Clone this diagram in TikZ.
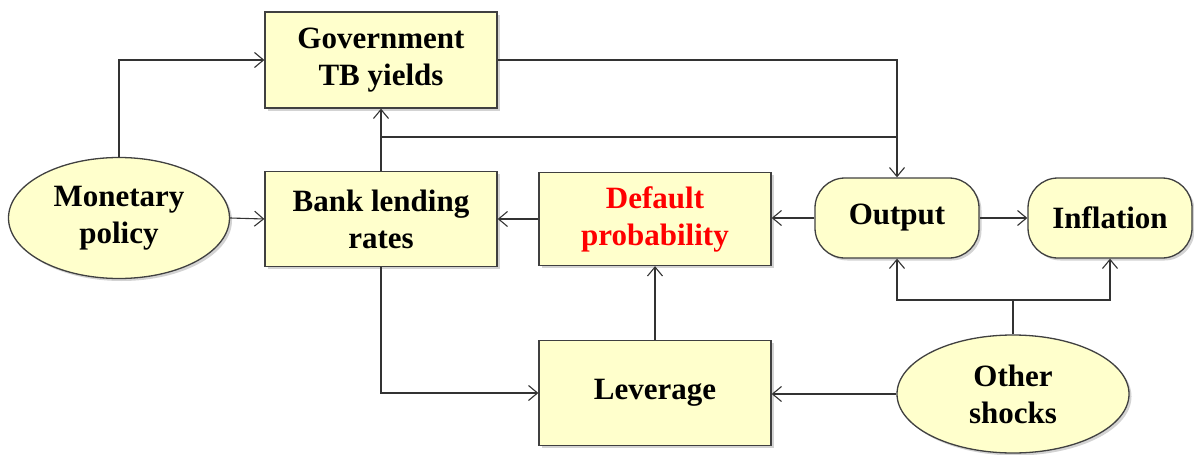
\documentclass[tikz,border=0pt]{standalone}
\usepackage{fontspec}
\setmainfont{Liberation Serif}
\usetikzlibrary{arrows.meta, shapes.geometric, shadows}

\definecolor{boxfill}{HTML}{FFFFCC}
\definecolor{boxline}{HTML}{404040}

\begin{document}
\begin{tikzpicture}[x=1pt, y=-1pt,
    base/.style={draw=boxline, line width=1.3pt, fill=boxfill, align=center,
      inner sep=0pt, font=\bfseries\fontsize{31}{37}\selectfont,
      drop shadow={shadow xshift=2.5pt, shadow yshift=-2.5pt, opacity=0.35}},
    block/.style={base, rectangle, minimum width=232pt},
    pill/.style={base, rectangle, rounded corners=30pt, minimum width=164pt, minimum height=80pt},
    oval/.style={base, ellipse},
    link/.style={draw=black!80, line width=1.1pt, -{Straight Barb[length=9pt, width=15pt]}}]

  \useasboundingbox (0,0) rectangle (1194,455);

  % Boxes
  \node[block, minimum height=96pt] (gov) at (381,60) {Government\\TB yields};
  \node[block, minimum height=95pt] (bank) at (381,219) {Bank lending\\rates};
  \node[block, minimum height=93pt, text=red] (dflt) at (655,219) {Default\\probability};
  \node[block, minimum height=105pt] (lev) at (655,393) {Leverage};
  \node[pill] (out) at (897,218) {Output};
  \node[pill] (infl) at (1110,218) {Inflation};

  % Ellipses
  \node[oval, minimum width=221pt, minimum height=121pt] (mon) at (119,218) {Monetary\\policy};
  \node[oval, minimum width=232pt, minimum height=118pt] (shock) at (1013,394) {Other\\shocks};

  % Branch points
  \coordinate (split) at (381,137);
  \coordinate (fork) at (1013,300);

  % Connectors
  \draw[link] (mon.north) |- (gov.west);
  \draw[link] (mon.east) -- (bank.west);
  \draw[link] (bank.north) -- (gov.south);
  \draw[link] (gov.east) -| (out.north);
  \draw[link, -] (split) -- (split -| out.north);
  \draw[link] (dflt.west) -- (bank.east);
  \draw[link] (out.west) -- (out.west -| dflt.east);
  \draw[link] (out.east) -- (infl.west);
  \draw[link] (bank.south) |- (lev.west);
  \draw[link] (lev.north) -- (dflt.south);
  \draw[link] (shock.west) -- (shock.west -| lev.east);
  \draw[link, -] (shock.north) -- (fork);
  \draw[link] (fork) -| (out.south);
  \draw[link] (fork) -| (infl.south);

\end{tikzpicture}
\end{document}
